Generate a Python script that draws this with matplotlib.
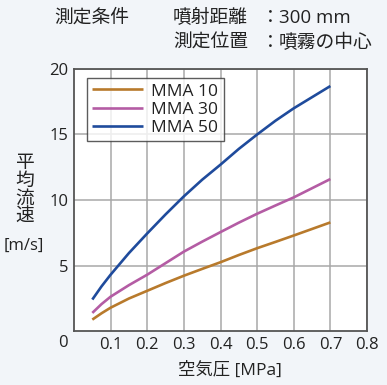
import matplotlib
matplotlib.use('Agg')
from matplotlib import pyplot as plt

plt.rcParams['font.family'] = ['Open Sans', 'Noto Sans CJK JP', 'DejaVu Sans']

pressure = [0.05, 0.075, 0.1, 0.15, 0.2, 0.25, 0.3, 0.35, 0.4, 0.45, 0.5, 0.55, 0.6, 0.65, 0.7]
mma10 = [0.87, 1.35, 1.78, 2.48, 3.07, 3.66, 4.22, 4.74, 5.25, 5.8, 6.32, 6.8, 7.29, 7.79, 8.29]
mma30 = [1.38, 2.05, 2.62, 3.5, 4.3, 5.18, 6.06, 6.82, 7.55, 8.27, 8.95, 9.58, 10.2, 10.9, 11.6]
mma50 = [2.4, 3.4, 4.3, 5.95, 7.45, 8.9, 10.28, 11.55, 12.7, 13.9, 15.0, 16.05, 17.0, 17.85, 18.7]
labels = ['MMA 10', 'MMA 30', 'MMA 50']
colors = ['#b87a2c', '#b45ca4', '#1f4b9c']

xticks = [0.1, 0.2, 0.3, 0.4, 0.5, 0.6, 0.7, 0.8]
yticks = [5, 10, 15, 20]

bg = '#f2f5f9'
txt = '#222222'
fig = plt.figure(figsize=(3.87, 3.85), dpi=100, facecolor=bg)
ax = fig.add_axes([74/387, 1 - 331/385, 293/387, 262/385])
ax.set_facecolor('white')

for series, lab, col in zip([mma10, mma30, mma50], labels, colors):
    ax.plot(pressure, series, color=col, lw=1.9, label=lab, solid_capstyle='butt')

ax.set_xlim(0, 0.8)
ax.set_ylim(0, 20)
ax.set_xticks(xticks)
ax.set_xticklabels([f'{v:.1f}' for v in xticks])
ax.set_yticks(yticks)
ax.grid(True, color='#a8a8a8', lw=1.1)
ax.set_axisbelow(True)
ax.tick_params(labelsize=12, length=0, pad=4, colors=txt)
for s in ax.spines.values():
    s.set_color('#555555')
    s.set_linewidth(1.3)

fig.text(63/387, 1 - 343/385, '0', ha='center', va='center', fontsize=12, color=txt)
fig.text(230/387, 1 - 370/385, '空気圧 [MPa]', ha='center', va='center', fontsize=12.5, color=txt)

fig.text(25/387, 1 - 190/385, '平\n均\n流\n速', ha='center', va='center',
         fontsize=13.5, linespacing=1.0, color=txt)
fig.text(24/387, 1 - 246/385, '[m/s]', ha='center', va='center',
         fontsize=12, color=txt)

fs = 13.5
fig.text(54/387, 1 - 18/385, '測定条件', ha='left', va='center', fontsize=fs, color=txt)
fig.text(173/387, 1 - 18/385, '噴射距離', ha='left', va='center', fontsize=fs, color=txt)
fig.text(270/387, 1 - 18/385, '：', ha='center', va='center', fontsize=fs, color=txt)
fig.text(279/387, 1 - 18/385, '300 mm', ha='left', va='center', fontsize=fs, color=txt)
fig.text(173/387, 1 - 43/385, '測定位置', ha='left', va='center', fontsize=fs, color=txt)
fig.text(270/387, 1 - 43/385, '：', ha='center', va='center', fontsize=fs, color=txt)
fig.text(279/387, 1 - 43/385, '噴霧の中心', ha='left', va='center', fontsize=fs, color=txt)

leg = ax.legend(loc='upper left', bbox_to_anchor=(0.045, 0.965), fontsize=12.5,
                frameon=True, fancybox=False, handlelength=2.9, borderpad=0.3,
                labelspacing=0.12, handletextpad=0.5, borderaxespad=0)
leg.get_frame().set_edgecolor('#333333')
leg.get_frame().set_linewidth(1.0)
for t in leg.get_texts():
    t.set_color(txt)

fig.savefig('out.png', dpi=100, facecolor=bg)
